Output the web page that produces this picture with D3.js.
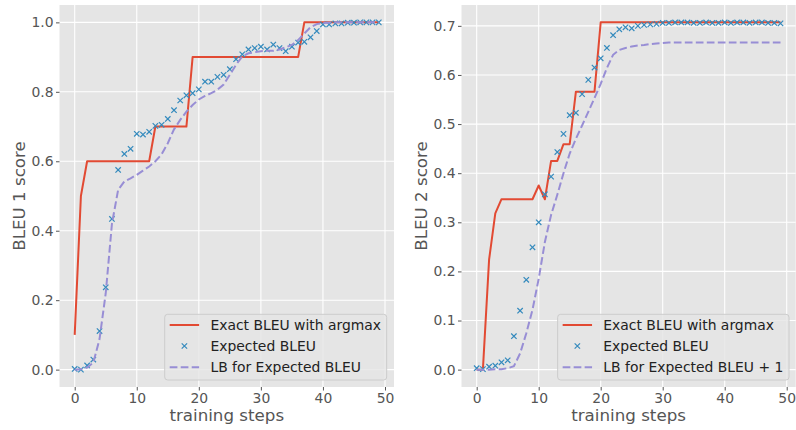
<!DOCTYPE html>
<html><head><meta charset="utf-8">
<script src="https://cdn.jsdelivr.net/npm/d3@7"></script>
<style>body{margin:0;background:#fff} svg{display:block} text{font-family:"DejaVu Sans",sans-serif}</style>
</head><body><svg id="c" width="796" height="430"></svg>
<script>
// ---------- data ----------
const steps=[0,1,2,3,4,5,6,7,8,9,10,11,12,13,14,15,16,17,18,19,20,21,22,23,24,25,26,27,28,29,30,31,32,33,34,35,36,37,38,39,40,41,42,43,44,45,46,47,48,49];

const exact1=[0.1,0.5,0.6,0.6,0.6,0.6,0.6,0.6,0.6,0.6,0.6,0.6,0.6,0.7,0.7,0.7,0.7,0.7,0.7,0.9,
0.9,0.9,0.9,0.9,0.9,0.9,0.9,0.9,0.9,0.9,0.9,0.9,0.9,0.9,0.9,0.9,0.9,1.0,1.0,1.0,
1.0,1.0,1.0,1.0,1.0,1.0,1.0,1.0,1.0,1.0];
const expected1=[0.002,0.0,0.012,0.029,0.111,0.237,0.434,0.575,0.621,0.636,
0.679,0.677,0.685,0.702,0.705,0.722,0.747,0.775,0.790,0.796,
0.807,0.829,0.829,0.843,0.849,0.865,0.894,0.908,0.922,0.926,
0.930,0.922,0.936,0.926,0.917,0.930,0.942,0.944,0.957,0.975,
0.994,0.994,0.997,0.997,0.999,0.999,1.0,1.0,1.0,1.0];
const lb1=[0.0,0.001,0.006,0.02,0.088,0.22,0.42,0.518,0.542,0.551,
0.561,0.573,0.585,0.600,0.620,0.652,0.692,0.719,0.743,0.762,
0.778,0.788,0.796,0.806,0.821,0.849,0.878,0.902,0.911,0.914,
0.917,0.918,0.918,0.922,0.928,0.935,0.949,0.968,0.986,0.995,
0.998,0.999,1.0,1.0,1.0,1.0,1.0,1.0,1.0,1.0];

const exact2=[0.0,0.0,0.224,0.318,0.347,0.347,0.347,0.347,0.347,0.347,
0.375,0.347,0.425,0.425,0.459,0.459,0.566,0.566,0.566,0.566,
0.7071,0.7071,0.7071,0.7071,0.7071,0.7071,0.7071,0.7071,0.7071,0.7071,
0.7071,0.7071,0.7071,0.7071,0.7071,0.7071,0.7071,0.7071,0.7071,0.7071,
0.7071,0.7071,0.7071,0.7071,0.7071,0.7071,0.7071,0.7071,0.7071,0.7071];
const expected2=[0.003,0.001,0.006,0.008,0.015,0.019,0.068,0.120,0.183,0.249,
0.300,0.357,0.393,0.443,0.480,0.518,0.523,0.561,0.590,0.615,
0.634,0.655,0.681,0.693,0.697,0.695,0.700,0.702,0.703,0.704,
0.706,0.706,0.707,0.707,0.707,0.706,0.706,0.707,0.706,0.706,
0.707,0.706,0.707,0.707,0.706,0.707,0.707,0.706,0.706,0.705];
const lb2=[0.0,0.0,0.0,0.001,0.001,0.003,0.007,0.033,0.074,0.122,
0.185,0.260,0.315,0.356,0.400,0.440,0.470,0.497,0.525,0.553,
0.582,0.614,0.641,0.651,0.655,0.658,0.660,0.661,0.663,0.664,
0.665,0.666,0.666,0.666,0.666,0.666,0.666,0.666,0.666,0.666,
0.666,0.666,0.666,0.666,0.666,0.666,0.666,0.666,0.666,0.666];

const xTicks=[0,10,20,30,40,50];
const yTicks1=[0.0,0.2,0.4,0.6,0.8,1.0];
const yTicks2=[0.0,0.1,0.2,0.3,0.4,0.5,0.6,0.7];
const legend1=["Exact BLEU with argmax","Expected BLEU","LB for Expected BLEU"];
const legend2=["Exact BLEU with argmax","Expected BLEU","LB for Expected BLEU + 1"];
const yLabel1="BLEU 1 score", yLabel2="BLEU 2 score";
const xLabel="training steps";

// ---------- style ----------
const BG="#E5E5E5", RED="#E24A33", BLUE="#348ABD", PURPLE="#988ED5", TXT="#555555";
const svg=d3.select("#c");

function panel(cfg){
  const {left,right,top,bottom,exact,expected,lb,yTicks,legend,yLabel,yLabelX}=cfg;
  const xr=d3.extent(steps), xm=(xr[1]-xr[0])*0.05;
  const all=exact.concat(expected,lb);
  const yr=d3.extent(all), ym=(yr[1]-yr[0])*0.05;
  const x=d3.scaleLinear().domain([xr[0]-xm,xr[1]+xm]).range([left,right]);
  const y=d3.scaleLinear().domain([yr[0]-ym,yr[1]+ym]).range([bottom,top]);
  const g=svg.append("g");
  g.append("rect").attr("x",left).attr("y",top).attr("width",right-left).attr("height",bottom-top).attr("fill",BG);
  // grid
  g.selectAll(".gx").data(xTicks).join("line").attr("x1",d=>x(d)).attr("x2",d=>x(d)).attr("y1",top).attr("y2",bottom)
    .attr("stroke","#fff").attr("stroke-width",1.1);
  g.selectAll(".gy").data(yTicks).join("line").attr("y1",d=>y(d)).attr("y2",d=>y(d)).attr("x1",left).attr("x2",right)
    .attr("stroke","#fff").attr("stroke-width",1.1);
  // axes
  const ax=d3.axisBottom(x).tickValues(xTicks).tickSize(3.5).tickPadding(3).tickFormat(d3.format("d"));
  const gx=g.append("g").attr("transform",`translate(0,${bottom})`).call(ax);
  const ay=d3.axisLeft(y).tickValues(yTicks).tickSize(3.5).tickPadding(2.5).tickFormat(d3.format(".1f"));
  const gy=g.append("g").attr("transform",`translate(${left},0)`).call(ay);
  [gx,gy].forEach(a=>{a.select(".domain").remove();
    a.selectAll(".tick line").attr("stroke",TXT).attr("stroke-width",1);
    a.selectAll(".tick text").attr("fill",TXT).attr("font-size","13.9px").attr("font-family","DejaVu Sans");});
  // labels
  g.append("text").attr("x",(left+right)/2).attr("y",421).attr("text-anchor","middle")
    .attr("font-size","16.7px").attr("fill",TXT).text(xLabel);
  g.append("text").attr("transform",`translate(${yLabelX},${(top+bottom)/2}) rotate(-90)`).attr("text-anchor","middle")
    .attr("font-size","16.7px").attr("fill",TXT).text(yLabel);
  // series
  const line=d3.line().x((d,i)=>x(steps[i])).y(d=>y(d));
  g.append("path").attr("d",line(exact)).attr("fill","none").attr("stroke",RED).attr("stroke-width",2).attr("stroke-linejoin","round");
  const s=2.7;
  g.selectAll(".mk").data(expected).join("path")
    .attr("d",(d,i)=>{const cx=x(steps[i]),cy=y(d);return `M${cx-s},${cy-s}L${cx+s},${cy+s}M${cx-s},${cy+s}L${cx+s},${cy-s}`;})
    .attr("stroke",BLUE).attr("stroke-width",1.2).attr("fill","none");
  g.append("path").attr("d",line(lb)).attr("fill","none").attr("stroke",PURPLE).attr("stroke-width",2).attr("stroke-dasharray","7.7,3.3");
  // legend
  const lg=g.append("g");
  const fs=13.9;
  const tmp=lg.selectAll(".lt").data(legend).join("text").attr("font-size",fs+"px").attr("fill","#222").text(d=>d);
  let maxW=0; tmp.each(function(){maxW=Math.max(maxW,this.getComputedTextLength());});
  const bw=45.7+maxW+5.7, bh=65.7;
  const bx=right-7.3-bw+ (right>700?0.6:0), byy=bottom-7-bh;
  lg.insert("rect","text").attr("x",bx).attr("y",byy).attr("width",bw).attr("height",bh).attr("rx",3)
    .attr("fill",BG).attr("fill-opacity",0.8).attr("stroke","#CCCCCC").attr("stroke-width",1);
  const rows=[byy+10.7,byy+31.7,byy+53];
  tmp.attr("x",bx+45.7).attr("y",(d,i)=>rows[i]+5);
  lg.append("line").attr("x1",bx+5).attr("x2",bx+34.4).attr("y1",rows[0]).attr("y2",rows[0]).attr("stroke",RED).attr("stroke-width",2);
  const mx=bx+19.7,my=rows[1];
  lg.append("path").attr("d",`M${mx-s},${my-s}L${mx+s},${my+s}M${mx-s},${my+s}L${mx+s},${my-s}`).attr("stroke",BLUE).attr("stroke-width",1.2);
  lg.append("line").attr("x1",bx+5).attr("x2",bx+34.4).attr("y1",rows[2]).attr("y2",rows[2]).attr("stroke",PURPLE).attr("stroke-width",2).attr("stroke-dasharray","7.7,3.3");
}

panel({left:59.5,right:394,top:5,bottom:387,exact:exact1,expected:expected1,lb:lb1,yTicks:yTicks1,legend:legend1,yLabel:yLabel1,yLabelX:24.5});
panel({left:461.5,right:795.7,top:5,bottom:387,exact:exact2,expected:expected2,lb:lb2,yTicks:yTicks2,legend:legend2,yLabel:yLabel2,yLabelX:426.5});
</script></body></html>
